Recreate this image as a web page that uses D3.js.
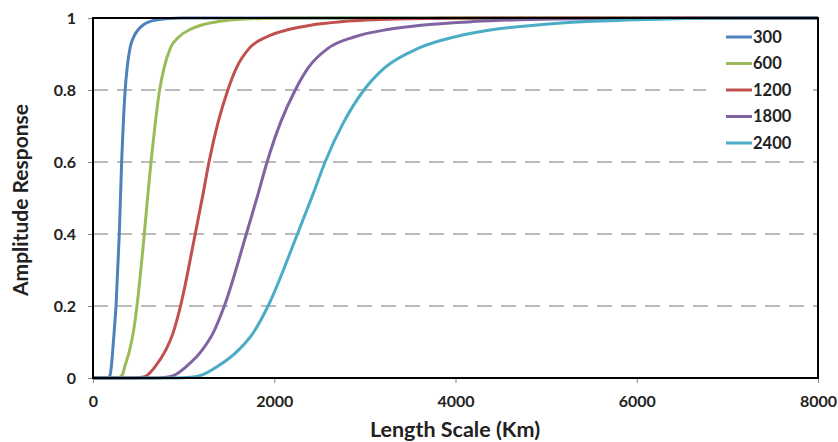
<!DOCTYPE html>
<html><head><meta charset="utf-8">
<script src="https://cdn.jsdelivr.net/npm/d3@7"></script>
<style>
body{margin:0;background:#fff;}
svg text{font-family:Lato,"Open Sans",sans-serif;font-weight:bold;fill:#222;}
</style></head>
<body><svg id="c" width="838" height="442"></svg>
<script>
const seriesNames = ["300","600","1200","1800","2400"];
const seriesColors = ["#4F81BD","#9BBB59","#C0504D","#8064A2","#4BACC6"];
const xTicks = [0,2000,4000,6000,8000];
const yTicks = [0,0.2,0.4,0.6,0.8,1];

const len300  = [0,165,185,202,222,240,254,272,290,316,335,355,378,410,450,500,560,650,800,1000,8000];
const amp300  = [0,0,0.005,0.031,0.09,0.15,0.2,0.3,0.4,0.6,0.71,0.8,0.865,0.918,0.948,0.968,0.982,0.992,0.998,1,1];
const len600  = [0,270,300,330,350,405,443,485,566,605,640,688,735,785,855,950,1070,1190,1380,1680,2160,8000];
const amp600  = [0,0,0.003,0.012,0.031,0.078,0.124,0.2,0.4,0.508,0.6,0.71,0.8,0.862,0.917,0.948,0.968,0.98,0.99,0.997,1,1];
const len1200 = [0,456,540,600,684,804,882,966,1128,1212,1280,1380,1488,1584,1728,1920,2160,2400,2760,3360,4320,8000];
const amp1200 = [0,0,0.002,0.008,0.031,0.078,0.124,0.2,0.4,0.508,0.6,0.71,0.8,0.862,0.917,0.948,0.968,0.98,0.99,0.997,1,1];
const len1800 = [0,700,810,900,1026,1206,1323,1449,1692,1818,1921,2070,2232,2376,2600,2890,3250,3620,4200,5100,6500,8000];
const amp1800 = [0,0,0.002,0.008,0.031,0.078,0.124,0.2,0.4,0.508,0.6,0.71,0.8,0.862,0.917,0.948,0.968,0.98,0.99,0.997,1,1];
const len2400 = [0,912,1080,1200,1368,1608,1764,1932,2256,2424,2561,2765,2990,3220,3600,4000,4420,4870,5450,6300,7200,8000];
const amp2400 = [0,0,0.002,0.008,0.031,0.078,0.124,0.2,0.4,0.508,0.6,0.71,0.8,0.862,0.917,0.948,0.968,0.98,0.99,0.997,1,1];

const lens = [len300,len600,len1200,len1800,len2400];
const amps = [amp300,amp600,amp1200,amp1800,amp2400];

const svg = d3.select("#c");
const L = 93, R = 818, T = 18, B = 378;
const x = d3.scaleLinear().domain([0,8000]).range([L,R]);
const y = d3.scaleLinear().domain([0,1]).range([B,T]);

// gridlines
svg.append("g").selectAll("line").data(yTicks.filter(v=>v>0&&v<1)).join("line")
  .attr("x1",L).attr("x2",R).attr("y1",d=>y(d)).attr("y2",d=>y(d))
  .attr("stroke","#a6a6a6").attr("stroke-width",1.3).attr("stroke-dasharray","15,9");

// y axis
const ya = svg.append("g").attr("transform",`translate(${L},0)`)
  .call(d3.axisLeft(y).tickValues(yTicks).tickFormat(d=>d3.format("")(d)).tickSize(5).tickPadding(12));
ya.select(".domain").remove();
ya.selectAll("line").attr("stroke","#888");
ya.selectAll("text").style("font-size","16px").attr("fill","#222");

// x axis
const xa = svg.append("g").attr("transform",`translate(0,${B})`)
  .call(d3.axisBottom(x).tickValues(xTicks).tickFormat(d3.format("d")).tickSize(5).tickPadding(13));
xa.select(".domain").remove();
xa.selectAll("line").attr("stroke","#888");
xa.selectAll("text").style("font-size","16px").attr("fill","#222");

// series
const line = d3.line().x(d=>x(d[0])).y(d=>y(d[1])).curve(d3.curveMonotoneX);
seriesNames.forEach((n,i)=>{
  const pts = lens[i].map((v,j)=>[v,amps[i][j]]);
  svg.append("path").datum(pts).attr("d",line).attr("fill","none")
    .attr("stroke",seriesColors[i]).attr("stroke-width",3).attr("stroke-linejoin","round");
});

// frame
svg.append("rect").attr("x",L).attr("y",T).attr("width",R-L).attr("height",B-T)
  .attr("fill","none").attr("stroke","#000").attr("stroke-width",2);

// legend
const lg = svg.append("g");
lg.append("rect").attr("x",706).attr("y",22).attr("width",100).attr("height",134).attr("fill","#fff");
seriesNames.forEach((n,i)=>{
  const yy = 37 + i*26.5;
  lg.append("line").attr("x1",726).attr("x2",752).attr("y1",yy).attr("y2",yy)
    .attr("stroke",seriesColors[i]).attr("stroke-width",3);
  lg.append("text").attr("x",753).attr("y",yy).attr("dy","0.35em").style("font-size","16.5px").text(n);
});

// axis titles
svg.append("text").attr("x",455).attr("y",437).attr("text-anchor","middle")
  .style("font-size","21.5px").text("Length Scale (Km)");
svg.append("text").attr("transform","translate(28,200) rotate(-90)").attr("text-anchor","middle")
  .style("font-size","21px").text("Amplitude Response");
</script></body></html>
